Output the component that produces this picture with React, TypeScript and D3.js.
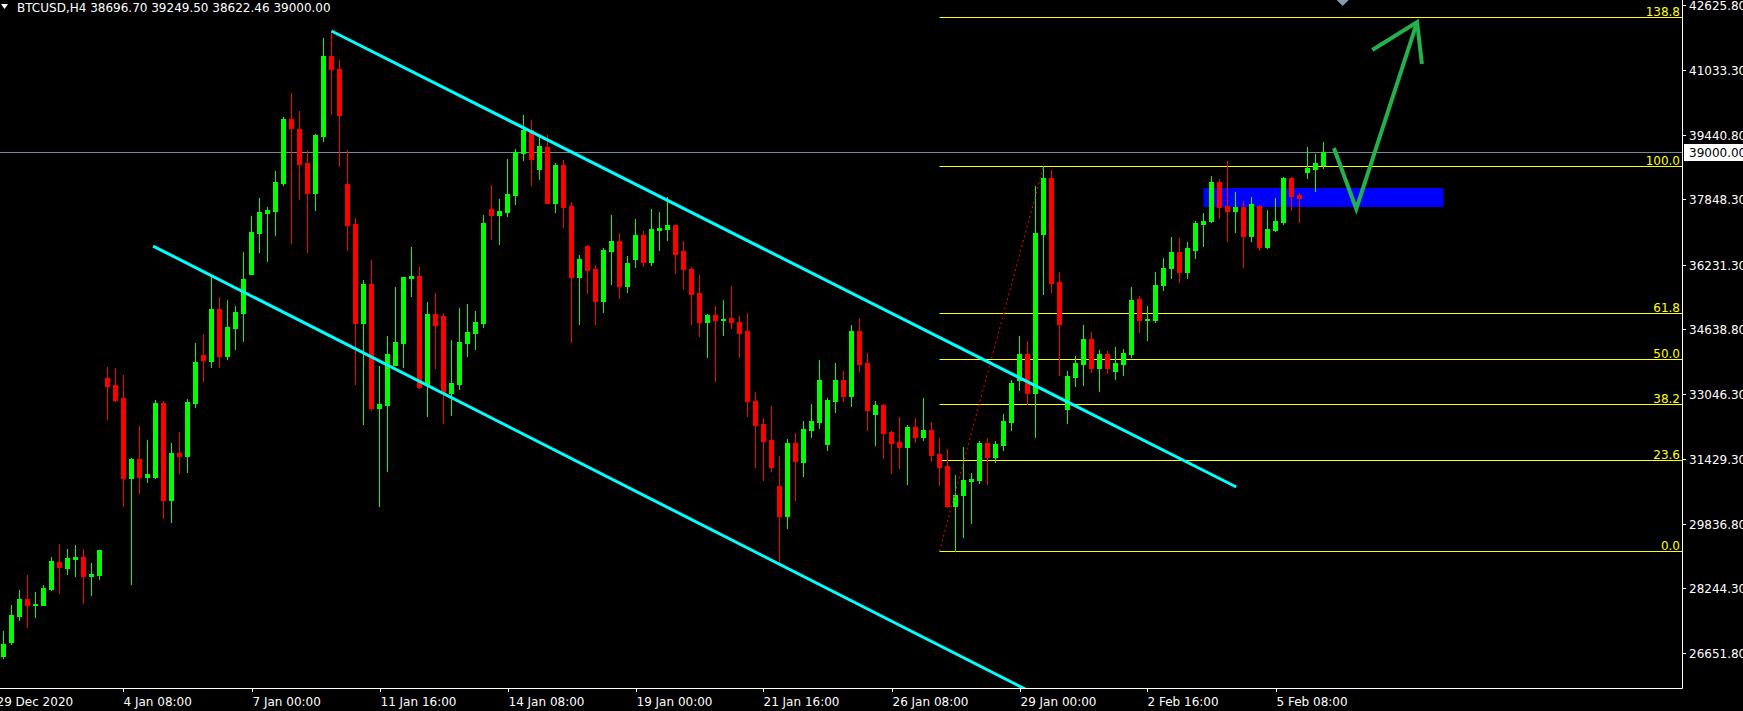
import React from 'react';
import * as d3 from 'd3';

const W = 1743;
const H = 711;
const plotRight = 1682;
const plotBottom = 688;

// OHLC per H4 bar (index 0 .. 165)
const opens = [26577,26923,27564,27983,27836,27836,28230,28896,28748,28970,29019,28551,28575,33435,33263,32942,30968,31437,30993,30993,32818,30426,31585,31511,32818,34003,33855,35137,33978,34668,35038,36000,37012,37505,37555,38245,39823,39577,38738,37998,39404,41378,41057,38220,37234,34792,35753,32695,32769,33756,34298,35901,35951,33263,35014,34964,33065,33287,34298,34545,34792,37604,37456,37530,37949,38985,39552,38590,39133,37752,38689,37678,35926,36691,36123,35334,36567,36815,35704,36370,36963,36296,37086,37111,37209,36567,36123,35531,34816,34989,34866,34915,34816,34594,32867,32300,31905,30771,30031,31831,31363,32152,32349,31807,32867,33386,32991,34594,33805,32547,32769,32103,31856,31733,32226,31979,32152,31560,31264,30278,30549,30894,30919,31831,31487,31782,32349,33386,34027,33065,36987,38368,35803,32670,33460,33781,34397,33682,34027,33608,33781,34027,35383,34866,34866,35729,36148,36543,36049,36592,37234,37308,38270,37678,37555,37653,36938,37678,36667,37086,37283,38368,37949,38516,38590,38696.7];
const highs = [27194,27836,28205,28575,28156,28329,29019,29341,29217,29316,29217,28871,29192,33707,33682,33509,31462,32251,31905,32892,32867,31831,32103,32917,34298,34520,35926,35433,35359,35211,36543,37431,37875,37653,38541,39873,40465,40021,39034,39453,41822,41994,41279,39059,37382,35852,36345,33731,34471,35679,35926,36667,36173,35310,35531,35038,34372,35162,35260,35088,37456,38196,37850,38837,39083,39922,39799,39429,39429,38738,38812,37777,36469,36716,36222,36642,37456,37012,36444,37357,37061,37604,37530,37900,37209,36815,36173,35975,35014,35211,35359,35704,34964,35038,33090,32448,32744,31511,31930,32078,32374,32793,33879,32942,33805,33608,34742,34915,34052,32867,32793,32128,32473,32275,32448,32942,32349,31955,31683,31042,31733,31092,31881,31955,31881,32547,33386,34471,34348,38171,38664,38566,36049,33608,33978,34742,34570,34126,34101,34200,34150,35679,35457,35211,36049,36395,36913,36888,36790,37308,37505,38418,38344,38788,38023,37801,37900,37703,37579,37875,38393,38393,37998,39133,38960,39249.5];
const lows = [26528,26874,27466,27293,27540,27836,28205,28131,28600,28551,27885,28082,28477,32423,32867,30278,28353,30598,30870,30968,29982,29883,31092,31116,32719,33361,33707,33707,33904,34150,34348,36000,36543,36321,36963,38196,36765,37850,36543,37579,39281,39947,38664,36592,33287,32300,32645,30278,31141,33756,33707,35457,33189,32497,33682,32325,32522,33164,33978,34150,34693,36864,36741,37431,37727,38812,38196,38344,37752,37530,37160,34323,34767,35531,34767,35063,35753,35408,35556,36173,36197,36222,36592,36839,36025,35630,34767,34471,33953,33361,34496,34668,33953,32497,31240,30919,31141,28871,29735,30426,31018,31979,32201,31659,32596,32867,32744,33608,32152,31782,31462,31092,31215,30820,31856,31905,31388,30796,30253,29167,29513,29858,30845,30820,31363,31659,32152,33139,32793,31979,35507,35556,33509,32325,33238,33263,33583,33114,33559,33410,33509,33953,34570,34372,34816,35606,35901,35803,35901,36395,36691,37283,37382,36815,37037,36173,36815,36592,36642,37061,37234,37579,37283,38368,38047,38622.46];
const closes = [26874,27589,27983,27836,27860,28255,28921,28773,28995,29019,28551,28600,29192,33238,32892,30968,31437,30993,31067,32818,30426,31585,31511,32843,33830,33879,35137,33978,34693,35063,35877,37037,37530,37579,38270,39823,39601,38714,37998,39429,41378,41057,39922,37209,34792,35753,32695,32793,34027,34323,35926,35951,33213,35014,34742,33065,33312,34323,34570,34816,37259,37456,37555,37974,39010,39552,38837,39157,37752,38689,37653,35926,36370,36099,35334,36592,36815,35704,36271,36963,36296,37111,37135,37209,36493,36123,35507,34816,34989,34866,34890,34816,34545,32867,32275,31881,31240,30031,31831,31388,32177,32374,33386,32892,33386,32991,34594,33781,32645,32769,32078,31831,31733,32226,31979,32152,31536,31240,30278,30549,30919,30944,31831,31487,31807,32374,33312,34027,33065,37012,38368,35778,34767,33484,33805,34397,33682,34027,33682,33805,34052,35359,34866,34890,35729,36148,36543,36049,36642,37259,37308,38270,37653,37555,37653,36938,37727,36667,37111,37308,38368,37925,37875,38615,38738,39000];

const priceTicks = [42625.8, 41033.3, 39440.8, 37848.3, 36231.3, 34638.8, 33046.3, 31429.3, 29836.8, 28244.3, 26651.8];
const dateTickIdx = [-1, 15, 31, 47, 63, 79, 95, 111, 127, 143, 159];
const dateTickLabels = ['29 Dec 2020', '4 Jan 08:00', '7 Jan 00:00', '11 Jan 16:00', '14 Jan 08:00', '19 Jan 00:00', '21 Jan 16:00', '26 Jan 08:00', '29 Jan 00:00', '2 Feb 16:00', '5 Feb 08:00'];

const fibLevels = [0, 23.6, 38.2, 50.0, 61.8, 100.0, 138.8];
const fibStart = [117, 29167];
const fibEnd = [130, 38664];

const upperChannel = [[41, 41994], [154.1, 30746]];
const lowerChannel = [[18.7, 36690], [140, 24530]];

const zoneBars = [150, 180];
const zonePrices = [38122, 37653];

const arrowLine = [[166.3, 39108], [169.1, 37604], [176.7, 42216]];
const arrowHead = [[171.1, 41526], [176.7, 42216], [177.3, 41180]];

const markerBar = 167.4;
const markerPrice = 42759;

const lastPrice = 39000;
const header = 'BTCUSD,H4  38696.70 39249.50 38622.46 39000.00';

export default function App() {
  const x = d3.scaleLinear().domain([0, 100]).range([3.5, 803.5]);
  const y = d3.scaleLinear().domain([42625.8, 26651.8]).range([5.4, 653]);
  const line = d3.line<number[]>().x(d => x(d[0])).y(d => y(d[1]));

  const fibX0 = x(fibStart[0]);
  const fibRange = fibEnd[1] - fibStart[1];

  const font = '"DejaVu Sans", Verdana, sans-serif';
  const mx = x(markerBar);
  const my = y(markerPrice);

  return (
    <svg width={W} height={H} style={{ position: 'absolute', left: 0, top: 0, background: '#000' }}>
      <defs>
        <clipPath id="plot">
          <rect x={0} y={0} width={plotRight} height={plotBottom} />
        </clipPath>
      </defs>
      <rect x={0} y={0} width={W} height={H} fill="#000" />
      <g clipPath="url(#plot)">
        {/* zone rectangle */}
        <rect
          x={x(zoneBars[0])}
          y={y(zonePrices[0])}
          width={x(zoneBars[1]) - x(zoneBars[0])}
          height={y(zonePrices[1]) - y(zonePrices[0])}
          fill="#0000ff"
        />
        {/* last price line */}
        <line x1={0} x2={plotRight} y1={Math.round(y(lastPrice)) + 0.5} y2={Math.round(y(lastPrice)) + 0.5} stroke="#778899" strokeWidth={1} />
        {/* fib lines */}
        {fibLevels.map((lv, k) => {
          const yy = Math.round(y(fibStart[1] + (lv / 100) * fibRange)) + 0.5;
          return (
            <g key={'fib' + k}>
              <line x1={fibX0} x2={plotRight} y1={yy} y2={yy} stroke="#ffff00" strokeWidth={1} />
              <text x={plotRight - 2} y={yy - 2} fill="#ffff00" fontSize={12} fontFamily={font} textAnchor="end">{lv.toFixed(1)}</text>
            </g>
          );
        })}
        {/* candles */}
        {opens.map((o, i) => {
          const c = closes[i];
          const hi = highs[i];
          const lo = lows[i];
          const bull = c >= o;
          const col = bull ? '#00ff00' : '#ff0000';
          const cx = x(i);
          const yTop = Math.round(y(Math.max(o, c)));
          const yBot = Math.round(y(Math.min(o, c)));
          const yH = Math.round(y(hi));
          const yL = Math.round(y(lo));
          return (
            <g key={'c' + i} shapeRendering="crispEdges">
              <rect x={cx - 0.5} y={yH} width={1} height={Math.max(1, yL - yH + 1)} fill={col} />
              <rect x={cx - 2.5} y={yTop} width={5} height={Math.max(1, yBot - yTop + 1)} fill={col} />
            </g>
          );
        })}
        {/* fib dotted diagonal */}
        <line x1={x(fibStart[0])} y1={y(fibStart[1])} x2={x(fibEnd[0])} y2={y(fibEnd[1])} stroke="#ff0000" strokeWidth={1} strokeDasharray="2,3" />
        {/* channel lines */}
        <path d={line(upperChannel) || ''} stroke="#00ffff" strokeWidth={3} fill="none" />
        <path d={line(lowerChannel) || ''} stroke="#00ffff" strokeWidth={3} fill="none" />
        {/* green arrow */}
        <path d={line(arrowLine) || ''} stroke="#22b14c" strokeWidth={4} fill="none" strokeLinejoin="miter" />
        <path d={line(arrowHead) || ''} stroke="#22b14c" strokeWidth={4} fill="none" />
        {/* small marker at top */}
        <path d={`M${mx - 6},${my} L${mx + 6},${my} L${mx},${my + 6} Z`} fill="#8a9bb0" />
      </g>
      {/* borders */}
      <line x1={0} x2={plotRight + 0.5} y1={plotBottom + 0.5} y2={plotBottom + 0.5} stroke="#ffffff" strokeWidth={1} />
      <line x1={plotRight + 0.5} x2={plotRight + 0.5} y1={0} y2={plotBottom + 0.5} stroke="#ffffff" strokeWidth={1} />
      {/* price axis */}
      {priceTicks.map((p, k) => {
        const yy = Math.round(y(p)) + 0.5;
        return (
          <g key={'pt' + k}>
            <line x1={plotRight} x2={plotRight + 4} y1={yy} y2={yy} stroke="#ffffff" />
            <text x={1689} y={yy + 4.5} fill="#ffffff" fontSize={12} fontFamily={font}>{p.toFixed(2)}</text>
          </g>
        );
      })}
      {/* last price box */}
      <rect x={1684} y={Math.round(y(lastPrice)) - 8} width={W - 1684} height={17} fill="#ffffff" />
      <text x={1689} y={Math.round(y(lastPrice)) + 5} fill="#000000" fontSize={12} fontFamily={font}>{lastPrice.toFixed(2)}</text>
      {/* time axis */}
      {dateTickIdx.map((idx, k) => {
        const xx = Math.round(x(idx)) + 0.5;
        return (
          <g key={'dt' + k}>
            <line x1={xx} x2={xx} y1={plotBottom} y2={plotBottom + 4} stroke="#ffffff" />
            <text x={xx} y={706} fill="#ffffff" fontSize={12} fontFamily={font}>{dateTickLabels[k]}</text>
          </g>
        );
      })}
      {/* header */}
      <path d="M1,4 L8,4 L4.5,9 Z" fill="#ffffff" />
      <text x={17} y={12} fill="#ffffff" fontSize={12} fontFamily={font}>{header}</text>
    </svg>
  );
}
